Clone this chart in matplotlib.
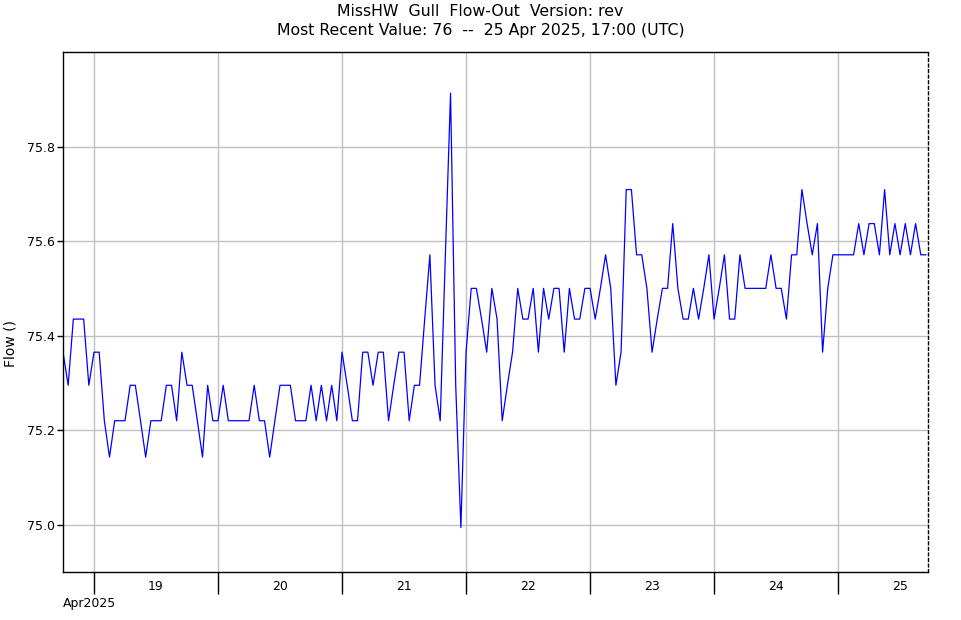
import matplotlib
matplotlib.use("Agg")
import matplotlib.pyplot as plt
import matplotlib.dates as mdates
import pandas as pd

title_line1 = "MissHW  Gull  Flow-Out  Version: rev"
title_line2 = "Most Recent Value: 76  --  25 Apr 2025, 17:00 (UTC)"
y_label = "Flow ()"
start_time = "2025-04-18 18:00"
y_ticks = [75.0, 75.2, 75.4, 75.6, 75.8]

flow = [
    75.365, 75.295, 75.435, 75.435, 75.435, 75.295, 75.365, 75.365, 75.22, 75.143, 75.22,
    75.22, 75.22, 75.295, 75.295, 75.22, 75.143, 75.22, 75.22, 75.22, 75.295, 75.295,
    75.22, 75.365, 75.295, 75.295, 75.22, 75.143, 75.295, 75.22, 75.22, 75.295, 75.22,
    75.22, 75.22, 75.22, 75.22, 75.295, 75.22, 75.22, 75.143, 75.22, 75.295, 75.295,
    75.295, 75.22, 75.22, 75.22, 75.295, 75.22, 75.295, 75.22, 75.295, 75.22, 75.365,
    75.295, 75.22, 75.22, 75.365, 75.365, 75.295, 75.365, 75.365, 75.22,
    75.295, 75.365, 75.365, 75.22, 75.295, 75.295, 75.435, 75.571, 75.295, 75.22, 75.571,
    75.913, 75.295, 74.994, 75.365, 75.5, 75.5, 75.435, 75.365, 75.5, 75.435, 75.22,
    75.295, 75.365, 75.5, 75.435, 75.435, 75.5, 75.365, 75.5, 75.435, 75.5, 75.5,
    75.365, 75.5, 75.435, 75.435, 75.5, 75.5, 75.435, 75.5, 75.571, 75.5,
    75.295, 75.365, 75.709, 75.709, 75.571, 75.571, 75.5, 75.365, 75.435, 75.5, 75.5,
    75.637, 75.5, 75.435, 75.435, 75.5, 75.435, 75.5, 75.571, 75.435, 75.5, 75.571,
    75.435, 75.435, 75.571, 75.5, 75.5, 75.5, 75.5, 75.5, 75.571, 75.5, 75.5,
    75.435, 75.571, 75.571, 75.709, 75.637, 75.571, 75.637, 75.365, 75.5, 75.571,
    75.571, 75.571, 75.571, 75.571, 75.637, 75.571, 75.637, 75.637, 75.571, 75.709,
    75.571, 75.637, 75.571, 75.637, 75.571, 75.637, 75.571, 75.571,
]

times = pd.date_range(start_time, periods=len(flow), freq="h")

fig = plt.figure(figsize=(9.61, 6.20), dpi=100)
ax = fig.add_axes([63 / 961, 1 - 572 / 620, (928 - 63) / 961, (572 - 52) / 620])

ax.plot(times, flow, color="#0000ff", linewidth=0.9)

ax.set_xlim(pd.Timestamp(start_time), pd.Timestamp("2025-04-25 17:24"))
ax.set_ylim(74.9, 76.0)

ax.set_yticks(y_ticks)
ax.set_yticklabels([f"{v:.1f}" for v in y_ticks])

ax.xaxis.set_major_locator(mdates.DayLocator())
ax.xaxis.set_major_formatter(plt.NullFormatter())
ax.xaxis.set_minor_locator(mdates.HourLocator(byhour=[12]))
ax.xaxis.set_minor_formatter(mdates.DateFormatter("%d"))
ax.tick_params(axis="x", which="major", length=16, width=1, color="black")
ax.tick_params(axis="x", which="minor", length=0, labelsize=9, pad=6)
ax.tick_params(axis="y", which="major", length=4, width=1, labelsize=9, pad=2)

ax.grid(True, which="major", color="#c0c0c0", linewidth=1)
ax.set_axisbelow(True)

for s in ["left", "bottom", "top"]:
    ax.spines[s].set_color("black")
    ax.spines[s].set_linewidth(1)
ax.spines["right"].set_linestyle((0, (2, 2)))
ax.spines["right"].set_linewidth(1)

ax.set_ylabel(y_label, fontsize=10)
ax.yaxis.set_label_coords(-0.053, 0.44)

fig.text(63 / 961, 1 - 603 / 620, "Apr2025", fontsize=9, ha="left", va="center")

fig.text(0.5, 1 - 12 / 620, title_line1, fontsize=11.3, ha="center", va="center")
fig.text(0.5, 1 - 31 / 620, title_line2, fontsize=11.3, ha="center", va="center")

fig.savefig("out.png", dpi=100)
